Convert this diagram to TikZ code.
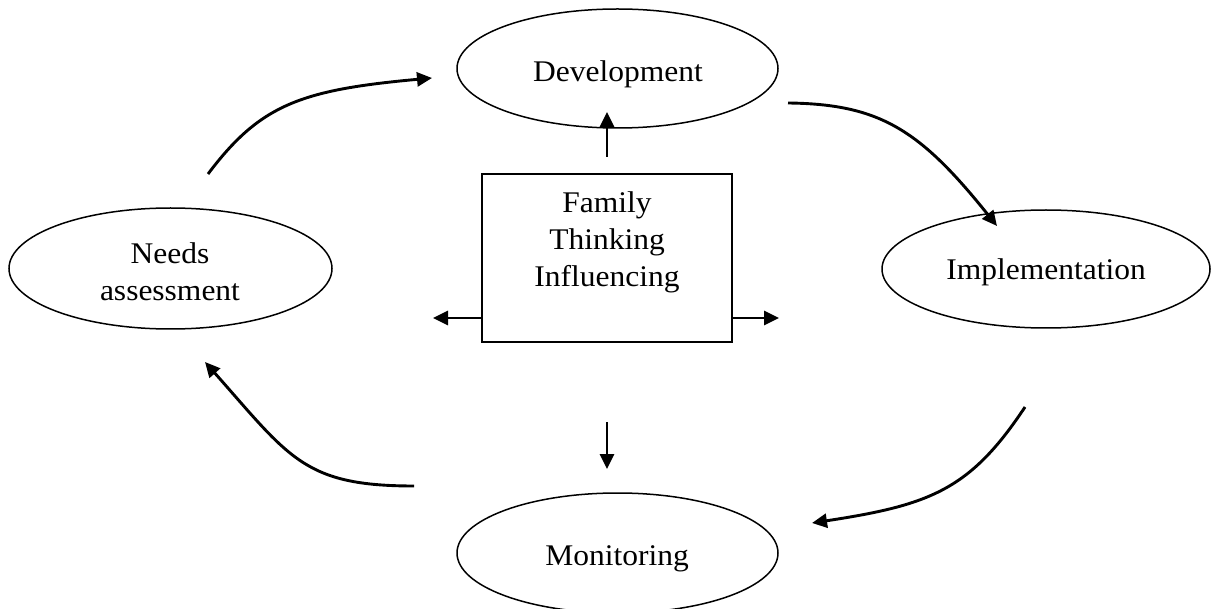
\documentclass[tikz,border=0pt]{standalone}
\usepackage{fontspec}
\setmainfont{Liberation Serif}[FakeStretch=1.05]
\usetikzlibrary{shapes.geometric,arrows.meta}
\begin{document}
\begin{tikzpicture}[x=1pt,y=-1pt,
  oval/.style={draw, ellipse, line width=1.5pt, inner sep=0pt},
  lbl/.style={font=\fontsize{30}{37}\selectfont, align=center, inner sep=0pt},
  flow/.style={line width=2.9pt, -{Triangle[length=15pt,width=14pt]}},
  box/.style={draw, line width=2.2pt, inner sep=0pt}]
\useasboundingbox (0,0) rectangle (1212,609);
% ovals
\node[oval, minimum width=321pt, minimum height=119pt] (dev) at (617.5,68.5) {};
\node[oval, minimum width=323pt, minimum height=121pt] (needs) at (170.5,268.5) {};
\node[oval, minimum width=328pt, minimum height=118pt] (impl) at (1046,269) {};
\node[oval, minimum width=321pt, minimum height=120pt] (mon) at (617.5,553) {};
% labels
\node[lbl, anchor=base] (devtext) at (618,82) {Development};
\node[lbl, anchor=north] (needstext) at (170,242.5) {Needs\\assessment};
\node[lbl, anchor=base] (impltext) at (1046,280) {Implementation};
\node[lbl, anchor=base] (montext) at (617,565) {Monitoring};
% central box
\node[box, minimum width=250pt, minimum height=168pt] (box) at (607,258) {};
\node[lbl, anchor=north] (boxtext) at (607,191.5) {Family\\Thinking\\Influencing};
% straight arrows
\coordinate (upS) at (607,157);
\coordinate (upE) at (607,112);
\coordinate (lS) at (482,318);
\coordinate (lE) at (433,318);
\coordinate (rS) at (732,318);
\coordinate (rE) at (779,318);
\coordinate (dS) at (607,422);
\coordinate (dE) at (607,469);
\draw[flow] (upS) -- (upE);
\draw[flow] (lS) -- (lE);
\draw[flow] (rS) -- (rE);
\draw[flow] (dS) -- (dE);
% cycle arrows
\coordinate (a1) at (208,174);
\coordinate (b1) at (432,78);
\coordinate (a2) at (788,103);
\coordinate (b2) at (997,226);
\coordinate (a3) at (1025,407);
\coordinate (b3) at (812,523);
\coordinate (a4) at (414,486);
\coordinate (b4) at (205,362);
\draw[flow] (a1) .. controls (260,105) and (300,90) .. (b1);
\draw[flow] (a2) .. controls (880,104) and (920,130) .. (b2);
\draw[flow] (a3) .. controls (970,490) and (930,505) .. (b3);
\draw[flow] (a4) .. controls (304,486) and (290,458) .. (b4);
\end{tikzpicture}
\end{document}
